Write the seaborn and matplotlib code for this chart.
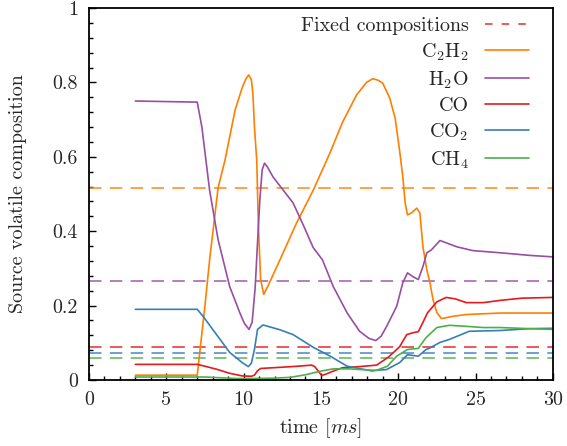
import matplotlib
matplotlib.use("Agg")
import matplotlib.pyplot as plt
from matplotlib.ticker import MultipleLocator, FuncFormatter
import seaborn as sns

# Source volatile mole fractions over time (ms)
t_c2h2 = [3.0, 7.0, 7.5, 7.8, 8.35, 8.8, 9.45, 9.9, 10.15, 10.33, 10.5, 10.6, 10.7,
          10.85, 10.95, 11.1, 11.3, 11.6, 12.35, 13.4, 14.5, 15.58, 16.4, 17.3,
          17.95, 18.35, 18.7, 19.0, 19.45, 19.8, 20.1, 20.3, 20.45, 20.6, 20.85,
          21.2, 21.4, 21.6, 21.85, 22.05, 22.25, 22.5, 22.8, 23.5, 24.4, 26.6,
          28.5, 30.0]
c2h2 = [0.013, 0.013, 0.20, 0.323, 0.517, 0.592, 0.726, 0.785, 0.81, 0.82, 0.808,
        0.77, 0.68, 0.59, 0.42, 0.27, 0.23, 0.255, 0.323, 0.42, 0.51, 0.61, 0.693,
        0.766, 0.80, 0.81, 0.806, 0.798, 0.758, 0.704, 0.613, 0.545, 0.475, 0.444,
        0.449, 0.462, 0.449, 0.358, 0.296, 0.262, 0.216, 0.181, 0.165, 0.171,
        0.176, 0.18, 0.18, 0.18]

t_h2o = [3.0, 7.0, 7.3, 7.8, 8.35, 9.1, 9.75, 10.05, 10.35, 10.55, 10.75, 10.9,
         11.05, 11.2, 11.35, 11.55, 11.9, 12.7, 13.2, 13.8, 14.5, 15.1, 15.8, 16.7,
         17.5, 18.1, 18.55, 18.9, 19.25, 19.9, 20.3, 20.6, 20.95, 21.3, 21.6,
         21.85, 22.15, 22.7, 23.8, 24.8, 26.6, 28.5, 30.0]
h2o = [0.75, 0.747, 0.68, 0.51, 0.377, 0.251, 0.181, 0.152, 0.136, 0.155, 0.25,
       0.37, 0.485, 0.565, 0.583, 0.572, 0.546, 0.503, 0.476, 0.422, 0.356, 0.323,
       0.251, 0.18, 0.131, 0.112, 0.106, 0.118, 0.144, 0.198, 0.262, 0.288, 0.278,
       0.27, 0.305, 0.342, 0.35, 0.375, 0.358, 0.348, 0.342, 0.335, 0.331]

t_co = [3.0, 7.0, 7.4, 8.25, 9.1, 9.9, 10.5, 10.7, 10.9, 11.1, 12.35, 13.5, 14.4,
        14.6, 15.05, 15.4, 15.8, 16.4, 17.5, 18.6, 19.35, 19.8, 20.1, 20.55, 20.95,
        21.3, 21.6, 21.9, 22.5, 23.1, 23.7, 24.4, 25.5, 26.6, 28.0, 30.0]
co = [0.042, 0.042, 0.038, 0.029, 0.018, 0.011, 0.01, 0.013, 0.025, 0.031, 0.034,
      0.037, 0.04, 0.036, 0.012, 0.017, 0.024, 0.033, 0.036, 0.04, 0.061, 0.078,
      0.09, 0.122, 0.127, 0.13, 0.155, 0.181, 0.21, 0.222, 0.218, 0.208, 0.208,
      0.214, 0.22, 0.222]

t_co2 = [3.0, 7.0, 7.4, 8.0, 9.1, 9.9, 10.3, 10.5, 10.7, 10.9, 11.25, 12.35, 13.2,
         14.5, 15.6, 16.7, 18.35, 18.55, 19.25, 20.1, 20.6, 21.3, 21.8, 22.0,
         22.7, 23.3, 24.6, 26.6, 28.5, 30.0]
co2 = [0.19, 0.19, 0.17, 0.136, 0.074, 0.047, 0.036, 0.045, 0.082, 0.136, 0.148,
       0.135, 0.122, 0.088, 0.064, 0.037, 0.024, 0.026, 0.028, 0.047, 0.068, 0.064,
       0.082, 0.085, 0.101, 0.109, 0.131, 0.133, 0.138, 0.139]

t_ch4 = [3.0, 7.0, 7.5, 8.5, 9.5, 10.5, 12.0, 13.0, 14.0, 14.9, 15.8, 16.8, 18.0,
         18.6, 19.3, 19.9, 20.6, 21.3, 21.8, 22.5, 23.3, 24.5, 25.5, 26.6, 28.5, 30.0]
ch4 = [0.008, 0.008, 0.008, 0.006, 0.004, 0.004, 0.005, 0.007, 0.014, 0.023, 0.03,
       0.03, 0.027, 0.026, 0.037, 0.064, 0.082, 0.085, 0.114, 0.141, 0.147, 0.144,
       0.141, 0.141, 0.138, 0.136]

# Fixed (time-independent) source compositions
labels = [r"C$_2$H$_2$", r"H$_2$O", "CO", r"CO$_2$", r"CH$_4$"]
fixed = [0.517, 0.267, 0.088, 0.072, 0.058]
colors = ["#ff7f00", "#984ea3", "#e41a1c", "#377eb8", "#4daf4a"]

x_ticks = [0, 5, 10, 15, 20, 25, 30]
y_ticks = [0, 0.2, 0.4, 0.6, 0.8, 1]

FS = 14.4

sns.set_style("ticks")
plt.rcParams["font.family"] = ["cmr10", "DejaVu Serif"]
plt.rcParams["mathtext.fontset"] = "cm"
plt.rcParams["axes.formatter.use_mathtext"] = True
plt.rcParams["font.size"] = FS

fig = plt.figure(figsize=(5.67, 4.46), dpi=100)
ax = fig.add_axes([0.157, 0.148, 0.818, 0.834])

series = [(t_c2h2, c2h2), (t_h2o, h2o), (t_co, co), (t_co2, co2), (t_ch4, ch4)]

# fixed compositions as dashed horizontal lines
dash = (7.5, 5.0)
for val, col in zip(fixed, colors):
    sns.lineplot(x=[x_ticks[0], x_ticks[-1]], y=[val, val], ax=ax, color=col,
                 lw=1.2, linestyle=(0, dash), alpha=0.85)

handles = []
lh, = ax.plot([], [], color=colors[2], lw=1.2, linestyle=(0, (4.5, 5.5)), alpha=0.85)
handles.append((lh, "Fixed compositions"))
for (tx, vy), lab, col in zip(series, labels, colors):
    sns.lineplot(x=tx, y=vy, ax=ax, color=col, lw=1.2, estimator=None, sort=False)
    h, = ax.plot([], [], color=col, lw=1.2)
    handles.append((h, lab))

ax.set_xlim(x_ticks[0], x_ticks[-1])
ax.set_ylim(y_ticks[0], y_ticks[-1])
ax.set_xticks(x_ticks)
ax.set_yticks(y_ticks)
ax.xaxis.set_minor_locator(MultipleLocator(1))
ax.yaxis.set_minor_locator(MultipleLocator(0.04))
fmt = FuncFormatter(lambda v, p: "%g" % round(v, 6))
ax.xaxis.set_major_formatter(fmt)
ax.yaxis.set_major_formatter(fmt)
ax.tick_params(which="both", direction="in", color="black", width=1.0)
ax.tick_params(which="major", length=5, labelsize=FS, pad=8)
ax.tick_params(which="minor", length=3)
for s in ax.spines.values():
    s.set_linewidth(1.3)
    s.set_color("black")

ax.set_xlabel(r"time [$ms$]", fontsize=FS, labelpad=5)
ax.set_ylabel("Source volatile composition", fontsize=FS, labelpad=18)

leg = ax.legend([h for h, _ in handles], [l for _, l in handles], loc="upper right",
                bbox_to_anchor=(0.989, 1.027),
                frameon=False, markerfirst=False, handlelength=2.2,
                labelspacing=0.32, borderaxespad=0.55, handletextpad=0.8, fontsize=FS)

fig.savefig("out.png", dpi=100)
